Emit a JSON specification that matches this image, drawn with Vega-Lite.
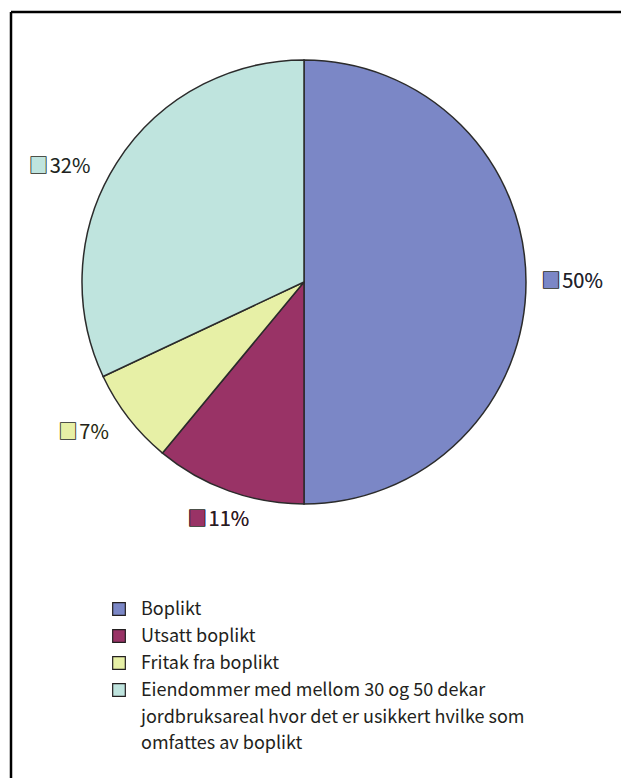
{
  "$schema": "https://vega.github.io/schema/vega-lite/v6.json",
  "width": 610,
  "height": 766,
  "autosize": {"type": "none"},
  "padding": {"left": 11, "top": 12, "right": 0, "bottom": 0},
  "background": "white",
  "config": {
    "view": {"stroke": "#000000", "strokeWidth": 2.5, "strokeDash": [610, 1376, 766, 0]},
    "font": "Noto Sans CJK SC",
    "style": {"guide-label": {"lineHeight": 26.5, "dy": 6}}
  },
  "data": {
    "values": [
      {"idx": 1, "category": "Boplikt", "value": 50},
      {"idx": 2, "category": "Utsatt boplikt", "value": 11},
      {"idx": 3, "category": "Fritak fra boplikt", "value": 7},
      {"idx": 4, "category": "Eiendommer med mellom 30 og 50 dekar jordbruksareal hvor det er usikkert hvilke som omfattes av boplikt", "value": 32}
    ]
  },
  "transform": [
    {"calculate": "'\u25a0\u200a' + datum.value + '%'", "as": "filled"},
    {"calculate": "'\u25a1\u200a' + datum.value + '%'", "as": "outline"}
  ],
  "encoding": {
    "theta": {"field": "value", "type": "quantitative", "stack": true},
    "order": {"field": "idx", "type": "quantitative"},
    "x": {"value": 293},
    "y": {"value": 270},
    "color": {
      "field": "category",
      "type": "nominal",
      "scale": {
        "domain": ["Boplikt", "Utsatt boplikt", "Fritak fra boplikt", "Eiendommer med mellom 30 og 50 dekar jordbruksareal hvor det er usikkert hvilke som omfattes av boplikt"],
        "range": ["#7b87c6", "#993366", "#e7f0a6", "#bfe4de"]
      },
      "legend": {
        "title": null,
        "orient": "none",
        "legendX": 99,
        "legendY": 588,
        "direction": "vertical",
        "symbolType": "square",
        "symbolSize": 160,
        "symbolOpacity": 1,
        "symbolStrokeColor": "#231f20",
        "symbolStrokeWidth": 1.2,
        "labelFont": "Noto Sans CJK SC",
        "labelFontSize": 18,
        "labelColor": "#231f20",
        "labelOffset": 13,
        "labelLimit": 700,
        "labelBaseline": "alphabetic",
        "rowPadding": 8,
        "labelExpr": "indexof(datum.label, 'Eiendommer') == 0 ? ['Eiendommer med mellom 30 og 50 dekar', 'jordbruksareal hvor det er usikkert hvilke som', 'omfattes av boplikt'] : datum.label"
      }
    }
  },
  "layer": [
    {
      "mark": {"type": "arc", "outerRadius": 222, "stroke": "#2b2b2b", "strokeWidth": 1.5}
    },
    {
      "mark": {"type": "text", "radius": 237, "align": "left", "baseline": "middle", "fontSize": 20},
      "encoding": {"text": {"condition": {"test": "datum.idx === 1", "field": "filled"}, "value": ""}}
    },
    {
      "mark": {"type": "text", "radius": 237, "align": "left", "baseline": "middle", "fontSize": 20},
      "encoding": {"text": {"condition": {"test": "datum.idx === 1", "field": "outline"}, "value": ""}, "color": {"value": "#231f20"}}
    },
    {
      "mark": {"type": "text", "radius": 253, "align": "center", "baseline": "middle", "fontSize": 20},
      "encoding": {"text": {"condition": {"test": "datum.idx === 2", "field": "filled"}, "value": ""}}
    },
    {
      "mark": {"type": "text", "radius": 253, "align": "center", "baseline": "middle", "fontSize": 20},
      "encoding": {"text": {"condition": {"test": "datum.idx === 2", "field": "outline"}, "value": ""}, "color": {"value": "#231f20"}}
    },
    {
      "mark": {"type": "text", "radius": 247, "align": "right", "baseline": "middle", "fontSize": 20},
      "encoding": {"text": {"condition": {"test": "datum.idx === 3", "field": "filled"}, "value": ""}}
    },
    {
      "mark": {"type": "text", "radius": 247, "align": "right", "baseline": "middle", "fontSize": 20},
      "encoding": {"text": {"condition": {"test": "datum.idx === 3", "field": "outline"}, "value": ""}, "color": {"value": "#231f20"}}
    },
    {
      "mark": {"type": "text", "radius": 253, "dy": 21, "align": "right", "baseline": "middle", "fontSize": 20},
      "encoding": {"text": {"condition": {"test": "datum.idx === 4", "field": "filled"}, "value": ""}}
    },
    {
      "mark": {"type": "text", "radius": 253, "dy": 21, "align": "right", "baseline": "middle", "fontSize": 20},
      "encoding": {"text": {"condition": {"test": "datum.idx === 4", "field": "outline"}, "value": ""}, "color": {"value": "#231f20"}}
    }
  ]
}
